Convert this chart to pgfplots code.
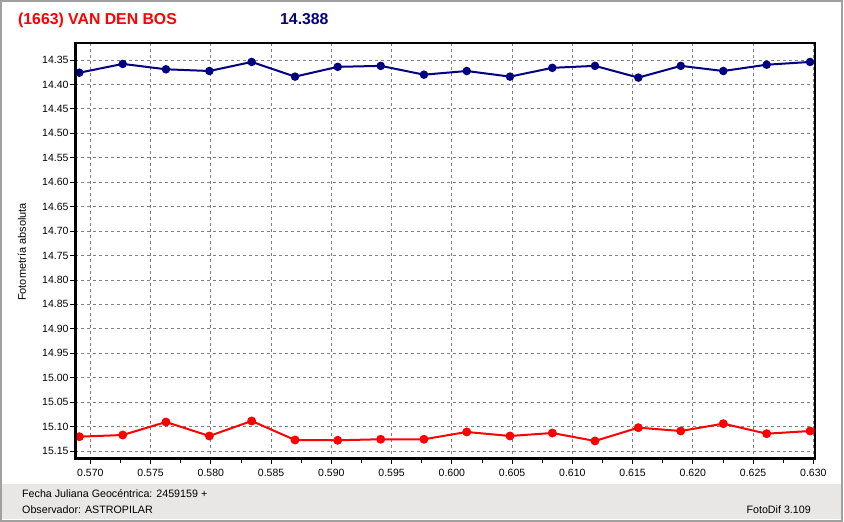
\documentclass[border=0pt]{standalone}
\usepackage{pgfplots}
\pgfplotsset{compat=1.18}
\usepackage{fontspec}
\setmainfont{Liberation Sans}
\definecolor{serieazul}{RGB}{0,0,128}
\definecolor{panelgris}{RGB}{232,231,229}
\definecolor{marco}{RGB}{160,160,160}
\definecolor{rejilla}{RGB}{128,128,128}

\begin{document}
\begin{tikzpicture}
\useasboundingbox (0,0) rectangle (844pt,522pt);
\fill[white] (0,0) rectangle (844pt,522pt);
\fill[panelgris] (2pt,3pt) rectangle (841pt,38pt);
\draw[marco,line width=2pt] (1pt,1pt) rectangle (842pt,521pt);

\begin{axis}[
    at={(75pt,63pt)}, anchor=south west,
    scale only axis, width=740pt, height=416pt,
    xmin=0.56873, xmax=0.63014,
    ymin=14.3152, ymax=15.1664,
    y dir=reverse,
    xtick={0.570,0.575,0.580,0.585,0.590,0.595,0.600,0.605,0.610,0.615,0.620,0.625,0.630},
    ytick={14.35,14.40,14.45,14.50,14.55,14.60,14.65,14.70,14.75,14.80,14.85,14.90,14.95,15.00,15.05,15.10,15.15},
    minor x tick num=1,
    tick pos=left, tick align=outside,
    major tick length=4.5pt, minor tick length=4pt,
    tick style={black, line width=0.8pt},
    xticklabel style={/pgf/number format/.cd, fixed, fixed zerofill, precision=3, assume math mode=true},
    yticklabel style={/pgf/number format/.cd, fixed, fixed zerofill, precision=2, assume math mode=true},
    scaled x ticks=false, scaled y ticks=false,
    ticklabel style={font=\fontsize{10.5}{12}\selectfont},
    xticklabel shift=2pt, yticklabel shift=-1.5pt,
    xmajorgrids, ymajorgrids,
    major grid style={rejilla, line width=0.8pt, dash pattern=on 3pt off 3pt},
    axis line style={black, line width=1.2pt},
    clip=false,
]
\addplot[serieazul, line width=2pt, mark=*, mark size=3.2pt] coordinates {
(0.56909,14.376) (0.57269,14.358) (0.57628,14.369) (0.57988,14.3725)
(0.58339,14.354) (0.58699,14.384) (0.59053,14.364) (0.59410,14.362)
(0.59769,14.380) (0.60124,14.3725) (0.60483,14.384) (0.60834,14.366)
(0.61188,14.362) (0.61548,14.386) (0.61900,14.362) (0.62253,14.3725)
(0.62613,14.3596) (0.62973,14.354)
};
\addplot[red, line width=2pt, mark=*, mark size=3.4pt] coordinates {
(0.56909,15.1207) (0.57269,15.1173) (0.57628,15.0907) (0.57988,15.1193)
(0.58339,15.0886) (0.58699,15.1275) (0.59053,15.1281) (0.59410,15.1260)
(0.59769,15.1260) (0.60124,15.1111) (0.60483,15.1193) (0.60834,15.1132)
(0.61188,15.1295) (0.61548,15.1023) (0.61900,15.1091) (0.62253,15.0941)
(0.62613,15.1146) (0.62973,15.1091)
};
\end{axis}
\draw[black,line width=2.6pt] (75.5pt,479pt) -- (75.5pt,63.5pt) -- (815pt,63.5pt);

\node[anchor=base west, text=red, font=\fontsize{15.8}{18}\selectfont\bfseries, inner sep=0pt] at (18pt,497pt) {(1663) VAN DEN BOS};
\node[anchor=base west, text=serieazul, font=\fontsize{15.8}{18}\selectfont\bfseries, inner sep=0pt] at (280pt,497pt) {14.388};
\node[rotate=90, font=\fontsize{11}{13}\selectfont, inner sep=0pt] at (22pt,270pt) {Fotometría absoluta};
\node[anchor=base west, font=\fontsize{10.7}{12}\selectfont, inner sep=0pt] at (22pt,24pt) {Fecha Juliana Geocéntrica: 2459159 +};
\node[anchor=base west, font=\fontsize{10.7}{12}\selectfont, inner sep=0pt] at (22pt,8pt) {Observador: ASTROPILAR};
\node[anchor=base east, font=\fontsize{10.7}{12}\selectfont, inner sep=0pt] at (811pt,8pt) {FotoDif 3.109};
\end{tikzpicture}
\end{document}
